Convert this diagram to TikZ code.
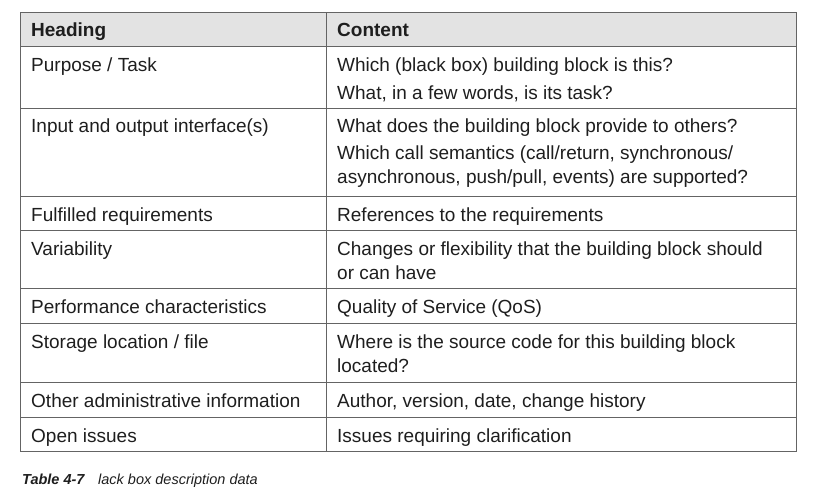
\documentclass[tikz,border=0pt]{standalone}
\usepackage{fontspec}
\setmainfont{Liberation Sans}
\usepackage{tikz}
\usetikzlibrary{positioning}

\definecolor{gridgray}{RGB}{100, 100, 100}
\definecolor{headbg}{RGB}{227, 227, 227}
\definecolor{inkdark}{RGB}{30, 30, 30}

\newcommand{\cellfont}{\fontsize{19}{24}\selectfont}
\newcommand{\capfont}{\fontsize{14.5}{18}\selectfont}

\tikzset{
  cell/.style={anchor=north west, inner sep=0pt, align=left, text=inkdark, font=\cellfont},
  headcell/.style={cell, font=\cellfont\bfseries},
  caption/.style={anchor=base west, inner sep=0pt, text=inkdark, font=\capfont\itshape}
}

\begin{document}
\begin{tikzpicture}[x=1pt, y=-1pt]
  \useasboundingbox (0,0) rectangle (823,493);

  % Table frame
  \fill[headbg] (20,12) rectangle (796,46);
  \foreach \y in {46,108,196,230,288,323,382,417}
    \draw[gridgray, line width=0.9pt] (20,\y) -- (796,\y);
  \draw[gridgray, line width=0.9pt] (326,12) -- (326,451);
  \draw[gridgray, line width=0.9pt] (20,12) rectangle (796,451);

  % Header
  \node[headcell] (hhead) at (31, 19.6) {\strut Heading};
  \node[headcell] (hcont) at (337, 19.6) {\strut Content};

  % Purpose / Task
  \node[cell] (l1) at (31, 54) {\strut Purpose / Task};
  \node[cell] (r1) at (337, 54) {\strut Which (black box) building block is this?\\[4pt]
    \strut What, in a few words, is its task?};

  % Interfaces
  \node[cell] (l2) at (31, 115) {\strut Input and output interface(s)};
  \node[cell] (r2) at (337, 115) {\strut What does the building block provide to others?\\[3pt]
    \strut Which call semantics (call/return, synchronous/\\
    \strut asynchronous, push/pull, events) are supported?};

  % Requirements
  \node[cell] (l3) at (31, 204) {\strut Fulfilled requirements};
  \node[cell] (r3) at (337, 204) {\strut References to the requirements};

  % Variability
  \node[cell] (l4) at (31, 238) {\strut Variability};
  \node[cell] (r4) at (337, 238) {\strut Changes or flexibility that the building block should\\
    \strut or can have};

  % Performance
  \node[cell] (l5) at (31, 296) {\strut Performance characteristics};
  \node[cell] (r5) at (337, 296) {\strut Quality of Service (QoS)};

  % Storage
  \node[cell] (l6) at (31, 331) {\strut Storage location / file};
  \node[cell] (r6) at (337, 331) {\strut Where is the source code for this building block\\
    \strut located?};

  % Administration
  \node[cell] (l7) at (31, 390) {\strut Other administrative information};
  \node[cell] (r7) at (337, 390) {\strut Author, version, date, change history};

  % Open issues
  \node[cell] (l8) at (31, 425) {\strut Open issues};
  \node[cell] (r8) at (337, 425) {\strut Issues requiring clarification};

  % Caption
  \node[caption, font=\capfont\bfseries\itshape] (tabno) at (22, 484) {Table 4-7};
  \node[caption] (tabtitle) at (98, 484) {lack box description data};
\end{tikzpicture}
\end{document}
